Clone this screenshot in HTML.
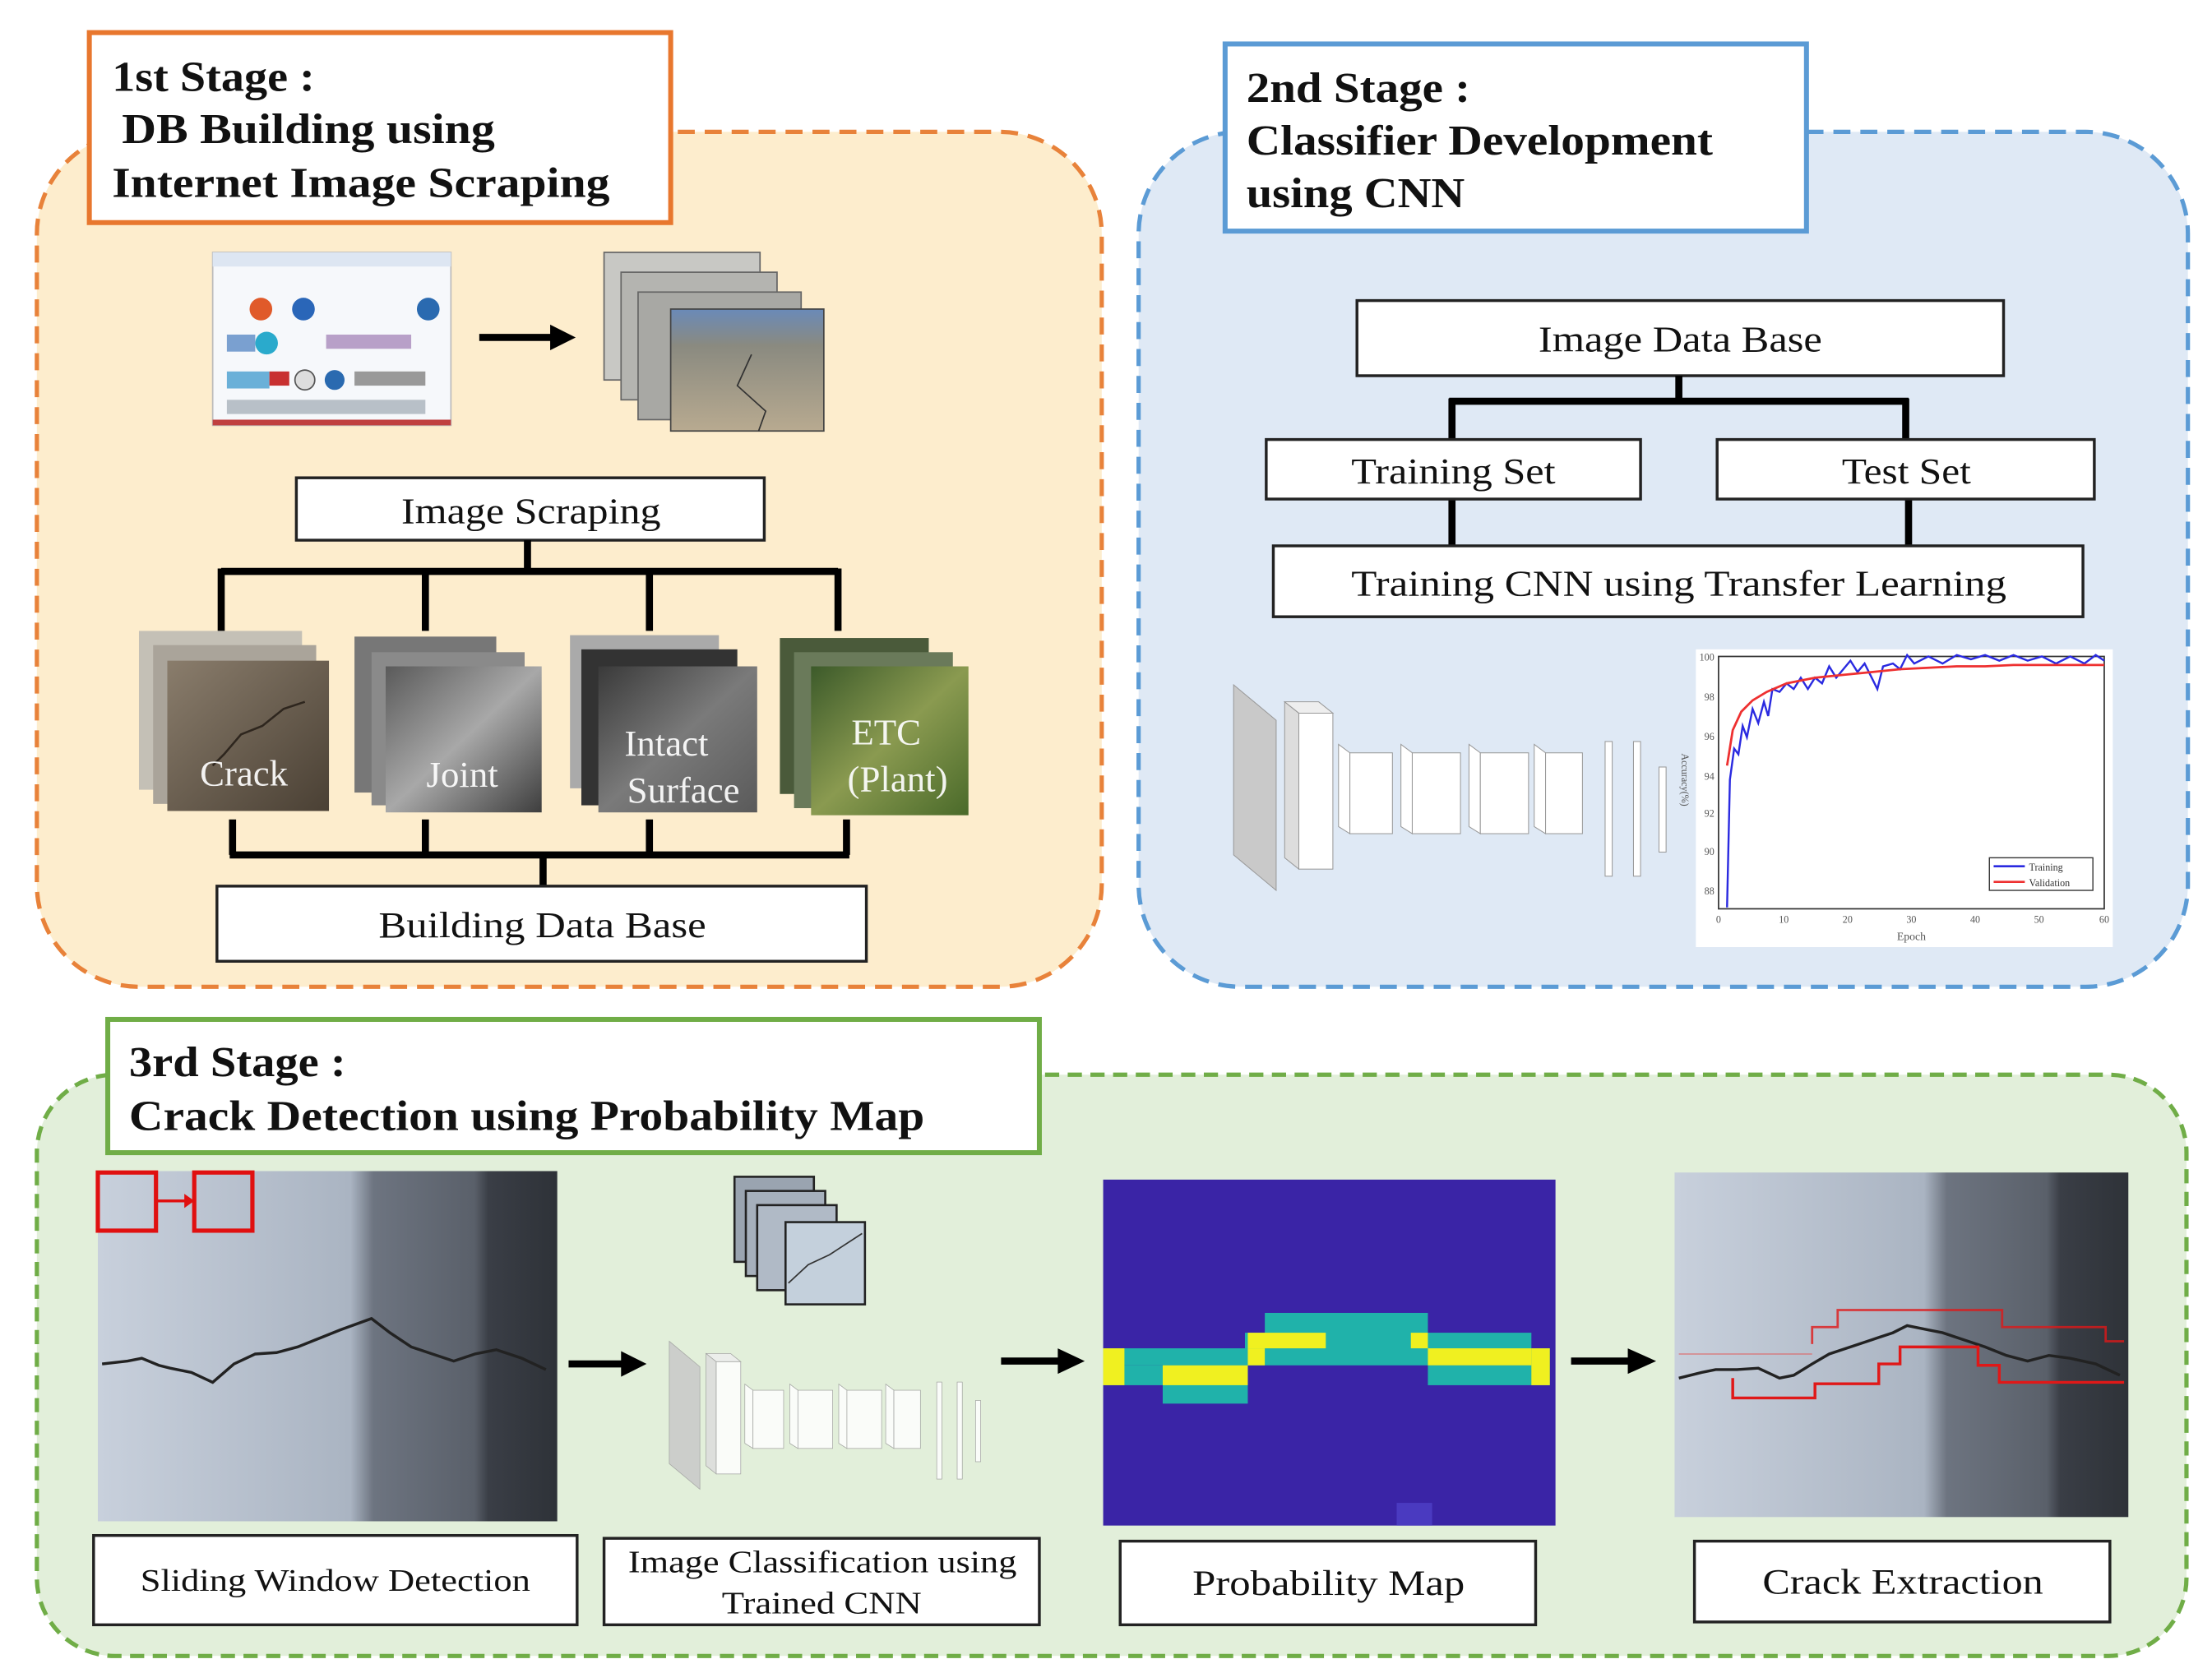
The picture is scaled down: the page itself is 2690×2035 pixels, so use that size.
<!DOCTYPE html>
<html><head><meta charset="utf-8"><style>
html,body{margin:0;padding:0;background:#fff;}
svg{display:block;}
text{font-family:"Liberation Serif",serif;}
</style></head><body>
<svg width="2690" height="2035" viewBox="0 0 1560 1180" preserveAspectRatio="none" xmlns="http://www.w3.org/2000/svg">
<defs>
<linearGradient id="crk" x1="0" y1="0" x2="1" y2="1"><stop offset="0" stop-color="#8a7d6c"/><stop offset="1" stop-color="#4a4034"/></linearGradient>
<linearGradient id="jnt" x1="0" y1="0" x2="1" y2="1"><stop offset="0" stop-color="#5a5a5a"/><stop offset="0.5" stop-color="#a8a8a8"/><stop offset="1" stop-color="#3e3e3e"/></linearGradient>
<linearGradient id="int" x1="0" y1="0" x2="1" y2="1"><stop offset="0" stop-color="#3a3a3a"/><stop offset="0.5" stop-color="#7a7a7a"/><stop offset="1" stop-color="#5a5a5a"/></linearGradient>
<linearGradient id="plt" x1="0" y1="0" x2="1" y2="1"><stop offset="0" stop-color="#3c5a2a"/><stop offset="0.5" stop-color="#8a9a50"/><stop offset="1" stop-color="#4a6a2a"/></linearGradient>
<linearGradient id="wall" x1="0" y1="0" x2="1" y2="0"><stop offset="0" stop-color="#c8d0dc"/><stop offset="0.55" stop-color="#aab4c2"/><stop offset="0.6" stop-color="#6d7480"/><stop offset="0.82" stop-color="#5a606a"/><stop offset="0.85" stop-color="#3a3e46"/><stop offset="1" stop-color="#2e3238"/></linearGradient>
<linearGradient id="road" x1="0" y1="0" x2="0" y2="1"><stop offset="0" stop-color="#6a8ab8"/><stop offset="0.3" stop-color="#8a8a80"/><stop offset="1" stop-color="#b8aa90"/></linearGradient>
<g id="cnn">
 <polygon points="0,0 30,25 30,145 0,120" fill="#c9c9c9" stroke="#999" stroke-width="0.6"/>
 <polygon points="36,12 46,20 46,130 36,122" fill="#ddd" stroke="#999" stroke-width="0.6"/>
 <rect x="46" y="20" width="24" height="110" fill="#fff" stroke="#999" stroke-width="0.6"/>
 <polygon points="36,12 60,12 70,20 46,20" fill="#eee" stroke="#999" stroke-width="0.6"/>
 <g stroke="#999" stroke-width="0.6" fill="#fff">
  <polygon points="74,42 82,48 82,105 74,100"/><rect x="82" y="48" width="30" height="57"/>
  <polygon points="118,42 126,48 126,105 118,100"/><rect x="126" y="48" width="34" height="57"/>
  <polygon points="166,42 174,48 174,105 166,100"/><rect x="174" y="48" width="34" height="57"/>
  <polygon points="212,42 220,48 220,105 212,100"/><rect x="220" y="48" width="26" height="57"/>
  <rect x="262" y="40" width="5" height="95"/><rect x="282" y="40" width="5" height="95"/><rect x="300" y="58" width="5" height="60"/>
 </g>
</g>
</defs>
<rect width="1560" height="1180" fill="#fff"/>

<!-- Stage 1 -->
<rect x="26" y="93" width="751" height="603" rx="72" fill="#fdedcd" stroke="#e8823a" stroke-width="3" stroke-dasharray="12,7"/>
<rect x="63" y="23" width="410" height="134" fill="#fff" stroke="#e8772e" stroke-width="3.5"/>
<g font-weight="bold" font-size="30" fill="#111">
<text x="79" y="64" textLength="143" lengthAdjust="spacingAndGlyphs">1st Stage :</text>
<text x="86" y="101" textLength="263" lengthAdjust="spacingAndGlyphs">DB Building using</text>
<text x="79" y="139" textLength="351" lengthAdjust="spacingAndGlyphs">Internet Image Scraping</text>
</g>
<rect x="150" y="178" width="168" height="122" fill="#f6f8fb" stroke="#bbb"/>
<rect x="150" y="178" width="168" height="10" fill="#dde6f2"/>
<rect x="150" y="296" width="168" height="4" fill="#c04040"/>
<g>
<circle cx="184" cy="218" r="8" fill="#e05a2a"/><circle cx="214" cy="218" r="8" fill="#2a66b8"/><circle cx="302" cy="218" r="8" fill="#2a6ab0"/>
<circle cx="188" cy="242" r="8" fill="#2aaacc"/><circle cx="215" cy="268" r="7" fill="#ddd" stroke="#555"/><circle cx="236" cy="268" r="7" fill="#2a6ab0"/>
<rect x="160" y="236" width="20" height="12" fill="#7aa0d0"/><rect x="230" y="236" width="60" height="10" fill="#b8a0c8"/>
<rect x="160" y="262" width="30" height="12" fill="#6ab0d8"/><rect x="190" y="262" width="14" height="10" fill="#c83030"/><rect x="250" y="262" width="50" height="10" fill="#999"/>
<rect x="160" y="282" width="140" height="10" fill="#b8c0c8"/>
</g>
<line x1="338" y1="238" x2="390" y2="238" stroke="#000" stroke-width="5"/><polygon points="388,229 406,238 388,247" fill="#000"/>
<rect x="426" y="178" width="110" height="90" fill="#c8c8c4" stroke="#666"/>
<rect x="438" y="192" width="110" height="90" fill="#b4b4b0" stroke="#666"/>
<rect x="450" y="206" width="115" height="90" fill="#a8a8a4" stroke="#666"/>
<rect x="473" y="218" width="108" height="86" fill="url(#road)" stroke="#444"/>
<path d="M530,250 L520,272 L540,290 L535,304" stroke="#333" fill="none"/>
<rect x="209" y="337" width="330" height="44" fill="#fff" stroke="#222" stroke-width="2"/>
<text x="283" y="369" font-size="26" fill="#111" textLength="183" lengthAdjust="spacingAndGlyphs">Image Scraping</text>
<path d="M372,381 V403 M156,403 H591 M156,401 V445 M300,401 V445 M458,401 V445 M591,401 V445" stroke="#000" stroke-width="5" fill="none"/>
<rect x="98" y="445" width="115" height="112" fill="#c4c0b6"/><rect x="108" y="455" width="115" height="112" fill="#aaa49a"/><rect x="118" y="466" width="114" height="106" fill="url(#crk)"/>
<path d="M150,540 L158,532 L170,518 L185,512 L200,500 L215,495" stroke="#2e261e" fill="none" stroke-width="1.5"/>
<rect x="250" y="449" width="100" height="110" fill="#777"/><rect x="262" y="460" width="108" height="108" fill="#8a8a8a"/><rect x="272" y="470" width="110" height="103" fill="url(#jnt)"/>
<rect x="402" y="448" width="105" height="108" fill="#aaa"/><rect x="410" y="458" width="110" height="110" fill="#333"/><rect x="422" y="470" width="112" height="103" fill="url(#int)"/>
<rect x="550" y="450" width="105" height="110" fill="#4a5a3a"/><rect x="560" y="460" width="112" height="110" fill="#6a7a5a"/><rect x="572" y="470" width="111" height="105" fill="url(#plt)"/>
<g fill="#fff" font-size="26" opacity="0.92">
<text x="172" y="554" text-anchor="middle">Crack</text>
<text x="326" y="555" text-anchor="middle">Joint</text>
<text x="470" y="533" text-anchor="middle">Intact</text><text x="482" y="566" text-anchor="middle">Surface</text>
<text x="625" y="525" text-anchor="middle">ETC</text><text x="633" y="558" text-anchor="middle">(Plant)</text>
</g>
<path d="M164,578 V603 M300,578 V603 M458,578 V603 M597,578 V603 M162,603 H599 M383,603 V625" stroke="#000" stroke-width="5" fill="none"/>
<rect x="153" y="625" width="458" height="53" fill="#fff" stroke="#222" stroke-width="2"/>
<text x="267" y="661" font-size="26" fill="#111" textLength="231" lengthAdjust="spacingAndGlyphs">Building Data Base</text>

<!-- Stage 2 -->
<rect x="803" y="93" width="740" height="603" rx="72" fill="#dfe9f5" stroke="#5b9bd5" stroke-width="3" stroke-dasharray="12,7"/>
<rect x="864" y="31" width="410" height="132" fill="#fff" stroke="#5b9bd5" stroke-width="3.5"/>
<g font-weight="bold" font-size="30" fill="#111">
<text x="879" y="72" textLength="158" lengthAdjust="spacingAndGlyphs">2nd Stage :</text>
<text x="879" y="109" textLength="329" lengthAdjust="spacingAndGlyphs">Classifier Development</text>
<text x="879" y="146" textLength="154" lengthAdjust="spacingAndGlyphs">using CNN</text>
</g>
<rect x="957" y="212" width="456" height="53" fill="#fff" stroke="#222" stroke-width="2"/>
<text x="1085" y="248" font-size="26" fill="#111" textLength="200" lengthAdjust="spacingAndGlyphs">Image Data Base</text>
<path d="M1184,265 V283 M1022,283 H1346 M1024,281 V310 M1344,281 V310 M1024,352 V385 M1346,352 V385" stroke="#000" stroke-width="5" fill="none"/>
<rect x="893" y="310" width="264" height="42" fill="#fff" stroke="#222" stroke-width="2"/>
<text x="953" y="341" font-size="26" fill="#111" textLength="144" lengthAdjust="spacingAndGlyphs">Training Set</text>
<rect x="1211" y="310" width="266" height="42" fill="#fff" stroke="#222" stroke-width="2"/>
<text x="1299" y="341" font-size="26" fill="#111" textLength="91" lengthAdjust="spacingAndGlyphs">Test Set</text>
<rect x="898" y="385" width="571" height="50" fill="#fff" stroke="#222" stroke-width="2"/>
<text x="953" y="420" font-size="26" fill="#111" textLength="462" lengthAdjust="spacingAndGlyphs">Training CNN using Transfer Learning</text>
<use href="#cnn" transform="translate(870,483)"/>
<rect x="1196" y="458" width="294" height="210" fill="#fff"/>
<rect x="1212" y="463" width="272" height="178" fill="#fff" stroke="#333" stroke-width="1"/>
<g font-size="7" fill="#555" font-family="Liberation Sans" text-anchor="end">
<text x="1209" y="466">100</text><text x="1209" y="494">98</text><text x="1209" y="522">96</text><text x="1209" y="550">94</text><text x="1209" y="576">92</text><text x="1209" y="603">90</text><text x="1209" y="631">88</text>
</g>
<g font-size="7" fill="#555" font-family="Liberation Sans" text-anchor="middle">
<text x="1212" y="651">0</text><text x="1258" y="651">10</text><text x="1303" y="651">20</text><text x="1348" y="651">30</text><text x="1393" y="651">40</text><text x="1438" y="651">50</text><text x="1484" y="651">60</text>
<text x="1348" y="663" font-size="8">Epoch</text>
</g>
<text x="1186" y="550" font-size="7" fill="#555" font-family="Liberation Sans" transform="rotate(90 1186 550)" text-anchor="middle">Accuracy(%)</text>
<polyline fill="none" stroke="#2a2ae0" stroke-width="1.4" points="1218,640 1220,550 1223,528 1226,532 1229,512 1232,520 1236,500 1240,510 1244,495 1247,505 1250,486 1255,488 1260,482 1265,486 1270,478 1275,486 1280,478 1285,482 1290,470 1295,478 1300,472 1305,466 1310,474 1315,468 1320,478 1324,486 1328,470 1335,468 1340,472 1345,462 1350,468 1360,463 1370,468 1380,462 1390,465 1400,462 1410,466 1420,462 1430,466 1440,463 1450,468 1460,463 1470,468 1478,462 1484,466"/>
<polyline fill="none" stroke="#ee3030" stroke-width="1.6" points="1218,540 1222,515 1228,502 1236,494 1246,488 1260,482 1280,478 1300,476 1320,474 1340,472 1360,471 1380,470 1400,470 1420,469 1440,469 1460,469 1484,469"/>
<rect x="1403" y="605" width="73" height="23" fill="#fff" stroke="#333" stroke-width="0.8"/>
<line x1="1406" y1="611" x2="1428" y2="611" stroke="#2a2ae0" stroke-width="1.5"/><line x1="1406" y1="622" x2="1428" y2="622" stroke="#ee3030" stroke-width="1.5"/>
<text x="1431" y="614" font-size="7" font-family="Liberation Sans" fill="#333">Training</text><text x="1431" y="625" font-size="7" font-family="Liberation Sans" fill="#333">Validation</text>

<!-- Stage 3 -->
<rect x="26" y="758" width="1516" height="410" rx="55" fill="#e2efda" stroke="#70ad47" stroke-width="3" stroke-dasharray="10,6"/>
<rect x="76" y="719" width="657" height="94" fill="#fff" stroke="#70ad47" stroke-width="3.5"/>
<g font-weight="bold" font-size="30" fill="#111">
<text x="91" y="759" textLength="153" lengthAdjust="spacingAndGlyphs">3rd Stage :</text>
<text x="91" y="797" textLength="561" lengthAdjust="spacingAndGlyphs">Crack Detection using Probability Map</text>
</g>
<rect x="69" y="826" width="324" height="247" fill="url(#wall)"/>
<path d="M72,962 L90,960 L100,958 L112,963 L120,965 L135,968 L150,975 L165,962 L180,955 L195,954 L210,950 L225,944 L240,938 L262,930 L275,940 L290,950 L305,955 L320,960 L335,955 L350,952 L368,958 L385,966" stroke="#222" stroke-width="2" fill="none"/>
<rect x="69" y="827" width="41" height="41" fill="none" stroke="#e01010" stroke-width="3"/>
<rect x="137" y="827" width="41" height="41" fill="none" stroke="#e01010" stroke-width="3"/>
<line x1="110" y1="847" x2="132" y2="847" stroke="#e01010" stroke-width="2"/><polygon points="130,842 137,847 130,852" fill="#e01010"/>
<line x1="401" y1="962" x2="440" y2="962" stroke="#000" stroke-width="5"/><polygon points="438,953 456,962 438,971" fill="#000"/>
<rect x="518" y="830" width="56" height="60" fill="#9aa4b0" stroke="#222" stroke-width="1.5"/>
<rect x="526" y="840" width="56" height="60" fill="#a6b0bc" stroke="#222" stroke-width="1.5"/>
<rect x="534" y="850" width="56" height="60" fill="#b0bac6" stroke="#222" stroke-width="1.5"/>
<rect x="554" y="862" width="56" height="58" fill="#c4d0dc" stroke="#222" stroke-width="1.5"/>
<path d="M556,905 L570,892 L585,885 L608,870" stroke="#333" fill="none"/>
<use href="#cnn" transform="translate(472,946) scale(0.72)" opacity="0.85"/>
<line x1="706" y1="960" x2="748" y2="960" stroke="#000" stroke-width="5"/><polygon points="746,951 765,960 746,969" fill="#000"/>
<rect x="778" y="832" width="319" height="244" fill="#3a24a6"/>
<g fill="#20b2aa">
<rect x="892" y="926" width="115" height="15"/>
<rect x="878" y="940" width="202" height="12"/>
<rect x="778" y="951" width="315" height="12"/>
<rect x="778" y="963" width="102" height="14"/>
<rect x="1007" y="963" width="86" height="14"/>
<rect x="820" y="963" width="60" height="27"/>
</g>
<g fill="#f0f020">
<rect x="880" y="940" width="55" height="11"/>
<rect x="995" y="940" width="12" height="11"/>
<rect x="778" y="951" width="15" height="26"/>
<rect x="880" y="951" width="12" height="12"/>
<rect x="1007" y="951" width="73" height="12"/>
<rect x="1080" y="951" width="13" height="26"/>
<rect x="820" y="963" width="60" height="14"/>
</g>
<rect x="985" y="1060" width="25" height="16" fill="#4a3ac0"/>
<line x1="1108" y1="960" x2="1150" y2="960" stroke="#000" stroke-width="5"/><polygon points="1148,951 1168,960 1148,969" fill="#000"/>
<rect x="1181" y="827" width="320" height="243" fill="url(#wall)"/>
<path d="M1184,972 L1200,968 L1210,966 L1225,966 L1240,965 L1255,972 L1265,970 L1278,962 L1290,955 L1305,950 L1320,945 L1335,940 L1345,935 L1360,938 L1370,940 L1385,945 L1400,950 L1415,956 L1430,960 L1445,956 L1460,958 L1478,962 L1495,970" stroke="#222" stroke-width="2" fill="none"/>
<path d="M1222,972 V986 H1280 V976 H1325 V962 H1340 V950 H1395 V963 H1410 V975 H1498" stroke="#e01818" stroke-width="2" fill="none"/>
<path d="M1278,948 V936 H1296 V924 H1412 V936 H1485 V946 H1498" stroke="#e01818" stroke-width="1.6" fill="none" opacity="0.8"/>
<line x1="1184" y1="955" x2="1278" y2="955" stroke="#e06060" stroke-width="1" opacity="0.6"/>
<g fill="#fff" stroke="#222" stroke-width="2">
<rect x="66" y="1083" width="341" height="63"/>
<rect x="426" y="1085" width="307" height="61"/>
<rect x="790" y="1087" width="293" height="59"/>
<rect x="1195" y="1087" width="293" height="57"/>
</g>
<g font-size="22" fill="#111">
<text x="99" y="1122" textLength="275" lengthAdjust="spacingAndGlyphs">Sliding Window Detection</text>
<text x="443" y="1109" textLength="274" lengthAdjust="spacingAndGlyphs">Image Classification using</text>
<text x="509" y="1138" textLength="141" lengthAdjust="spacingAndGlyphs">Trained CNN</text>
<text x="841" y="1125" font-size="25" textLength="192" lengthAdjust="spacingAndGlyphs">Probability Map</text>
<text x="1243" y="1124" font-size="25" textLength="198" lengthAdjust="spacingAndGlyphs">Crack Extraction</text>
</g>
</svg>
</body></html>
